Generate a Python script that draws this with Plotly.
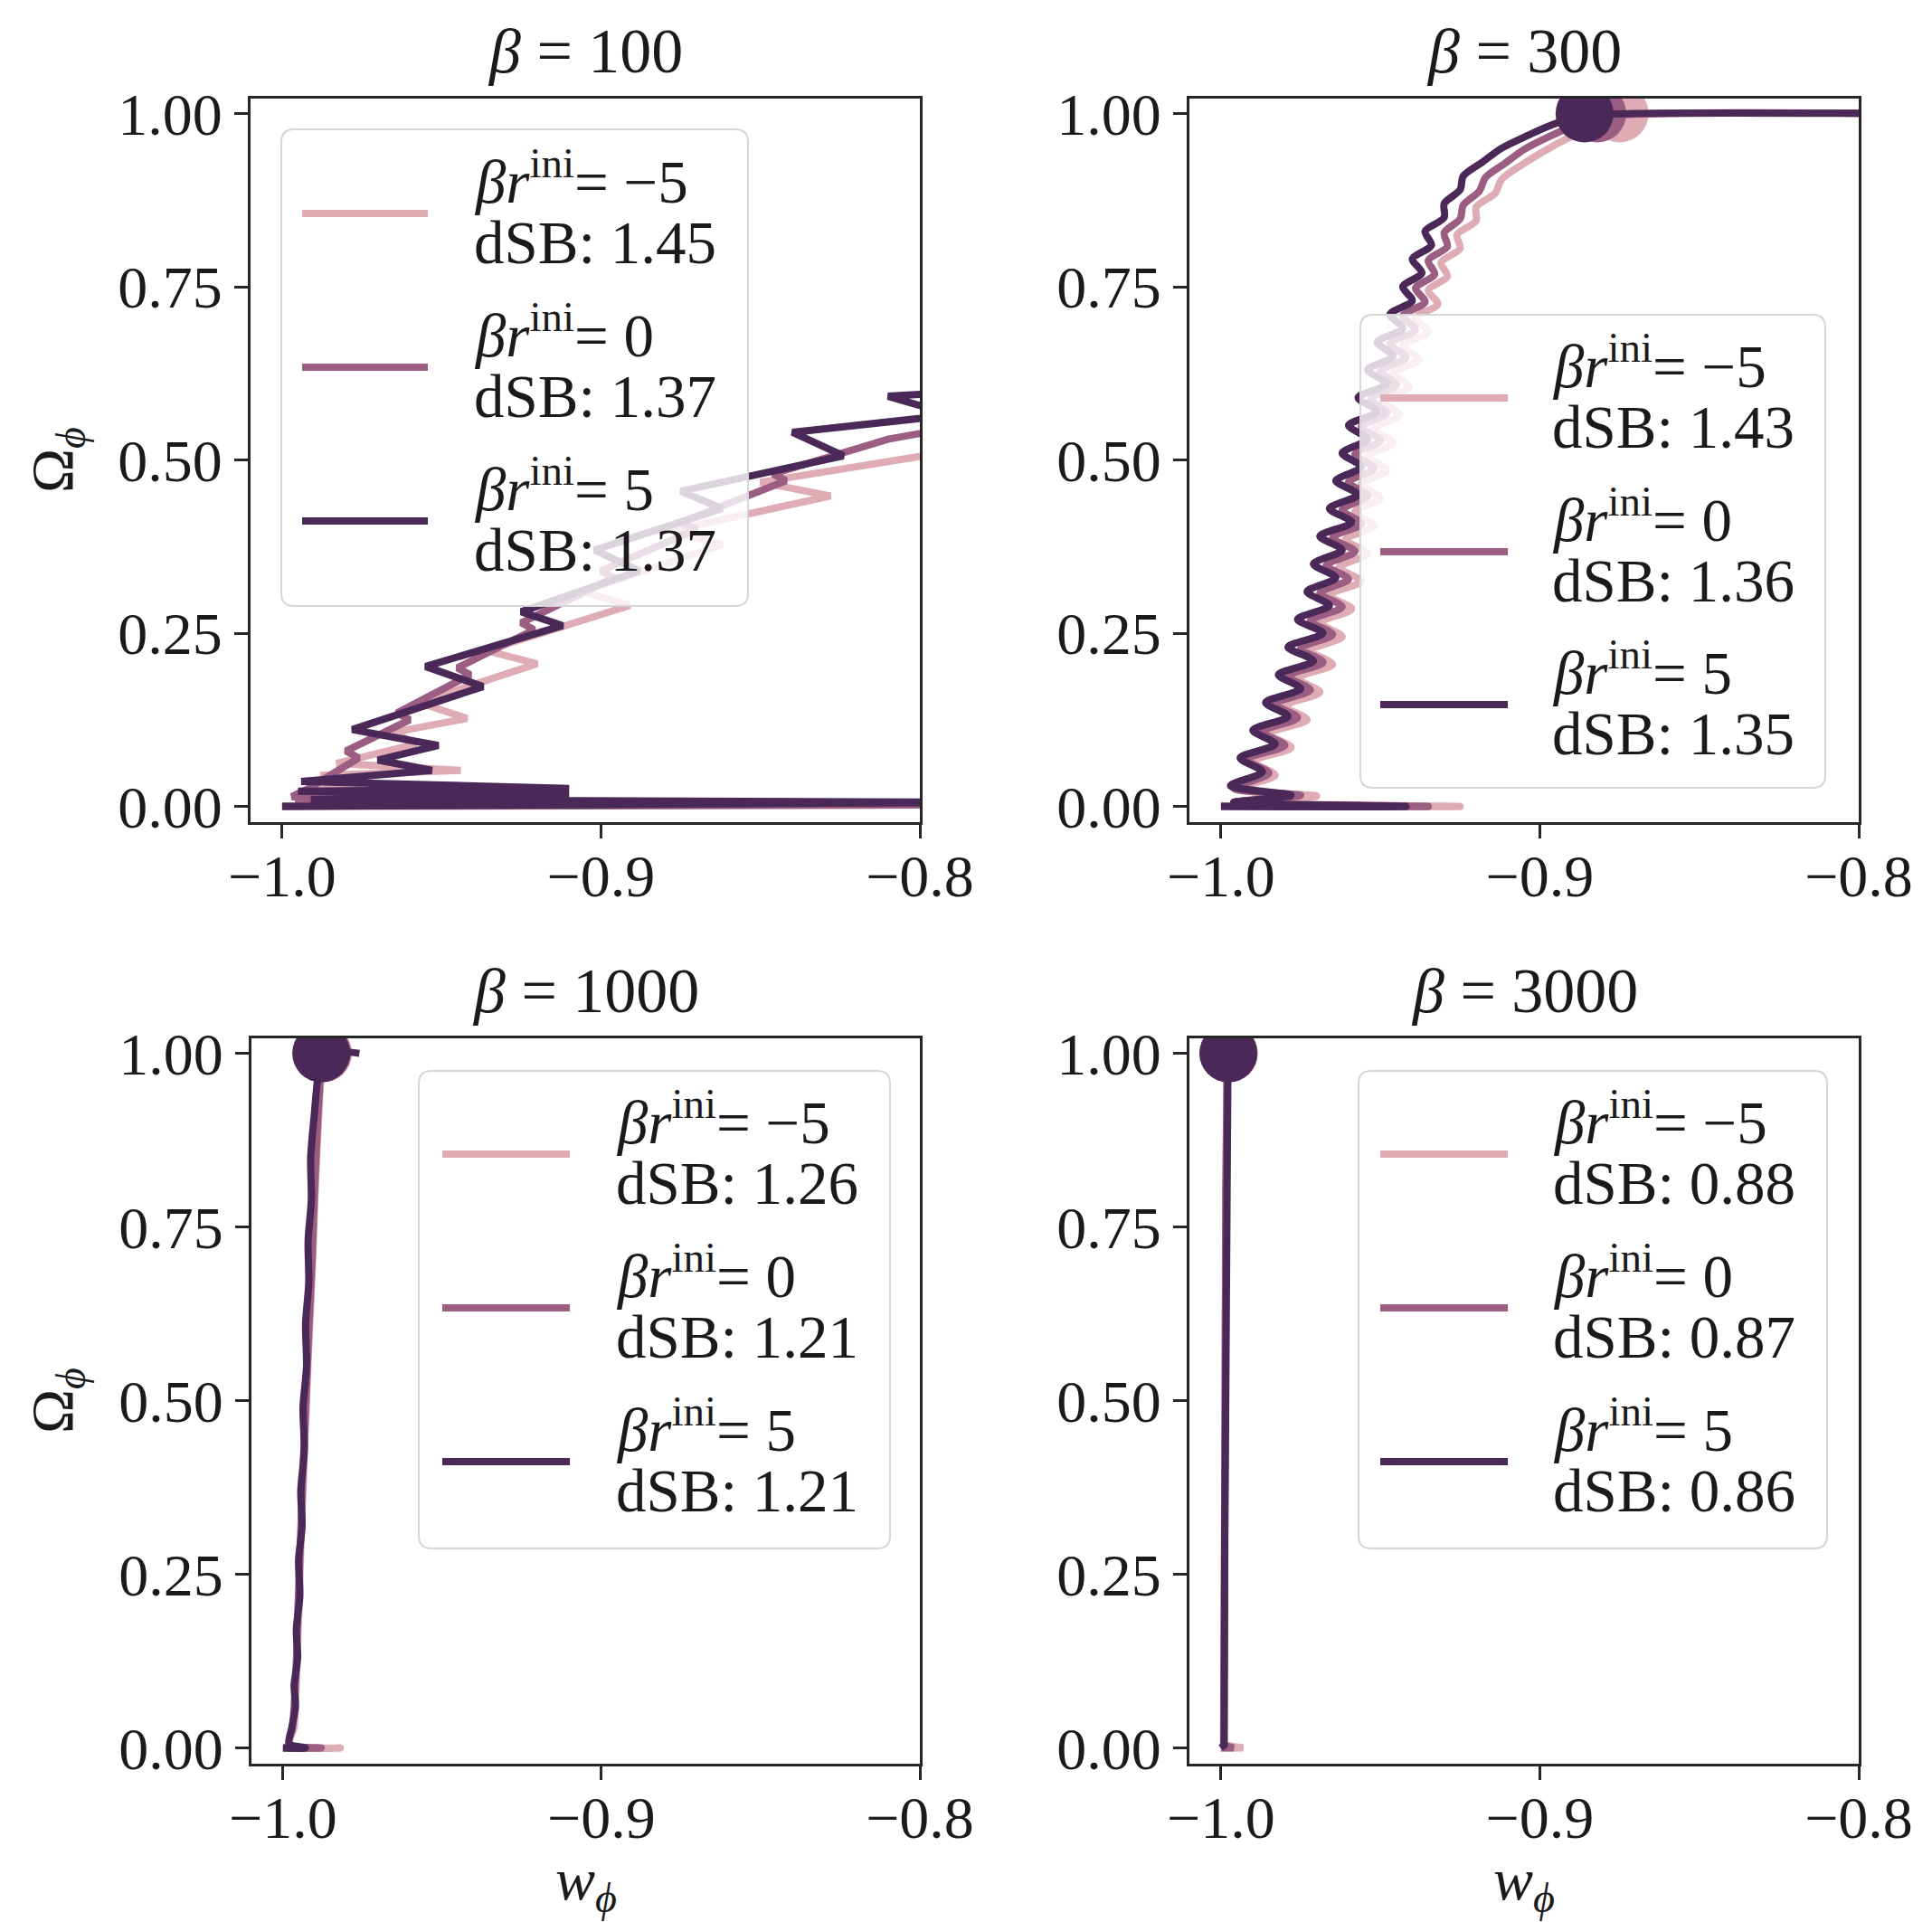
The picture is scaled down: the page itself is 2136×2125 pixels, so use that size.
import plotly.graph_objects as go

W, H = 2136, 2125
FONT = "Liberation Serif"
TXT = "#1a1a1a"
AX = "#262626"

series_colors = ["#dfabb4", "#9b5d81", "#4a2857"]
r_ini_text = ["−5", "0", "5"]
beta_values = [100, 300, 1000, 3000]
dsb_beta100 = [1.45, 1.37, 1.37]
dsb_beta300 = [1.43, 1.36, 1.35]
dsb_beta1000 = [1.26, 1.21, 1.21]
dsb_beta3000 = [0.88, 0.87, 0.86]
x_ticks = [-1.0, -0.9, -0.8]
x_tick_text = ["−1.0", "−0.9", "−0.8"]
y_ticks = [0.0, 0.25, 0.5, 0.75, 1.0]
y_tick_text = ["0.00", "0.25", "0.50", "0.75", "1.00"]

# ---------------- beta = 100 ----------------
w_b100_m5 = [-1.000, -0.905, -0.996, -0.960, -0.993, -0.975, -0.988, -0.944, -0.983, -0.958,
             -0.965, -0.942, -0.957, -0.920, -0.936, -0.891, -0.906, -0.862, -0.878, -0.828,
             -0.850, -0.800, -0.780]
om_b100_m5 = [0.000, 0.003, 0.008, 0.012, 0.020, 0.034, 0.045, 0.052, 0.062, 0.090,
              0.107, 0.127, 0.150, 0.206, 0.225, 0.290, 0.310, 0.378, 0.398, 0.448,
              0.468, 0.506, 0.520]
w_b100_0 = [-1.000, -0.800, -0.996, -0.930, -0.997, -0.992, -0.976, -0.980, -0.960, -0.964,
            -0.941, -0.945, -0.921, -0.925, -0.896, -0.900, -0.870, -0.875, -0.842, -0.846,
            -0.810, -0.780]
om_b100_0 = [0.000, 0.002, 0.006, 0.010, 0.014, 0.025, 0.070, 0.080, 0.125, 0.135,
             0.190, 0.200, 0.255, 0.265, 0.330, 0.340, 0.400, 0.410, 0.470, 0.480,
             0.530, 0.555]
w_b100_p5 = [-1.000, -0.780, -0.991, -0.910, -0.995, -0.910, -0.994, -0.953, -0.970, -0.951,
             -0.978, -0.937, -0.955, -0.912, -0.925, -0.888, -0.902, -0.862, -0.875, -0.853,
             -0.824, -0.840, -0.790, -0.810, -0.780]
om_b100_p5 = [0.000, 0.006, 0.010, 0.016, 0.022, 0.026, 0.036, 0.052, 0.067, 0.088,
              0.111, 0.173, 0.202, 0.261, 0.281, 0.340, 0.370, 0.430, 0.455, 0.477,
              0.506, 0.540, 0.565, 0.592, 0.600]

# ---------------- beta = 300 ----------------
w_b300_m5 = [-1.000, -0.925, -0.996, -0.970, -0.995, -0.983, -0.990, -0.978, -0.985, -0.973,
             -0.980, -0.969, -0.976, -0.965, -0.972, -0.962, -0.969, -0.959, -0.966, -0.956,
             -0.963, -0.954, -0.961, -0.952, -0.958, -0.950, -0.956, -0.948, -0.954, -0.946,
             -0.952, -0.944, -0.949, -0.941, -0.946, -0.938, -0.943, -0.935, -0.939, -0.932,
             -0.935, -0.929, -0.931, -0.925, -0.926, -0.920, -0.920, -0.914, -0.912, -0.906,
             -0.899, -0.891, -0.883, -0.876, -0.860, -0.780]
om_b300_m5 = [0.000, 0.000, 0.006, 0.015, 0.025, 0.045, 0.065, 0.085, 0.105, 0.125,
              0.145, 0.165, 0.185, 0.205, 0.225, 0.245, 0.265, 0.285, 0.305, 0.325,
              0.345, 0.365, 0.385, 0.405, 0.425, 0.445, 0.465, 0.485, 0.505, 0.525,
              0.545, 0.565, 0.585, 0.605, 0.625, 0.645, 0.665, 0.685, 0.705, 0.725,
              0.745, 0.765, 0.785, 0.805, 0.825, 0.845, 0.865, 0.885, 0.905, 0.925,
              0.945, 0.965, 0.982, 0.995, 1.000, 1.000]
w_b300_0 = [-1.000, -0.935, -0.996, -0.975, -0.996, -0.985, -0.992, -0.980, -0.987, -0.976,
            -0.983, -0.972, -0.979, -0.968, -0.975, -0.965, -0.972, -0.962, -0.969, -0.960,
            -0.967, -0.958, -0.965, -0.956, -0.962, -0.954, -0.960, -0.952, -0.958, -0.950,
            -0.956, -0.948, -0.953, -0.945, -0.950, -0.942, -0.947, -0.939, -0.943, -0.936,
            -0.939, -0.933, -0.935, -0.929, -0.930, -0.925, -0.924, -0.919, -0.917, -0.911,
            -0.905, -0.897, -0.889, -0.882, -0.865, -0.780]
om_b300_0 = [0.000, 0.000, 0.006, 0.016, 0.026, 0.048, 0.068, 0.088, 0.108, 0.128,
             0.148, 0.168, 0.188, 0.208, 0.228, 0.248, 0.268, 0.288, 0.308, 0.328,
             0.348, 0.368, 0.388, 0.408, 0.428, 0.448, 0.468, 0.488, 0.508, 0.528,
             0.548, 0.568, 0.588, 0.608, 0.628, 0.648, 0.668, 0.688, 0.708, 0.728,
             0.748, 0.768, 0.788, 0.808, 0.828, 0.848, 0.868, 0.888, 0.908, 0.928,
             0.948, 0.967, 0.983, 0.995, 1.000, 1.000]
w_b300_p5 = [-1.000, -0.942, -0.996, -0.978, -0.997, -0.987, -0.994, -0.983, -0.990, -0.979,
             -0.986, -0.975, -0.982, -0.971, -0.979, -0.968, -0.976, -0.966, -0.973, -0.964,
             -0.971, -0.962, -0.969, -0.959, -0.966, -0.957, -0.964, -0.956, -0.962, -0.954,
             -0.960, -0.951, -0.957, -0.948, -0.954, -0.946, -0.951, -0.943, -0.947, -0.940,
             -0.943, -0.937, -0.940, -0.934, -0.936, -0.930, -0.930, -0.925, -0.924, -0.918,
             -0.912, -0.904, -0.896, -0.888, -0.870, -0.780]
om_b300_p5 = [0.000, 0.000, 0.006, 0.016, 0.030, 0.050, 0.070, 0.090, 0.110, 0.130,
              0.150, 0.170, 0.190, 0.210, 0.230, 0.250, 0.270, 0.290, 0.310, 0.330,
              0.350, 0.370, 0.390, 0.410, 0.430, 0.450, 0.470, 0.490, 0.510, 0.530,
              0.550, 0.570, 0.590, 0.610, 0.630, 0.650, 0.670, 0.690, 0.710, 0.730,
              0.750, 0.770, 0.790, 0.810, 0.830, 0.850, 0.870, 0.890, 0.910, 0.930,
              0.950, 0.968, 0.984, 0.996, 1.000, 1.000]

# ---------------- beta = 1000 ----------------
w_b1000_m5 = [-1.000, -0.982, -0.998, -0.9965, -0.9958, -0.9950, -0.9943, -0.9935, -0.9926,
              -0.9917, -0.9907, -0.9899, -0.9889, -0.9880, -0.9871]
om_b1000_m5 = [0.000, 0.000, 0.004, 0.030, 0.100, 0.200, 0.300, 0.400, 0.500,
               0.600, 0.700, 0.800, 0.900, 0.970, 1.000]
w_b1000_0 = [-1.000, -0.988, -0.998, -0.9970, -0.9960, -0.9953, -0.9945, -0.9937, -0.9928,
             -0.9919, -0.9909, -0.9901, -0.9891, -0.9882, -0.9874]
om_b1000_0 = [0.000, 0.000, 0.005, 0.030, 0.100, 0.200, 0.300, 0.400, 0.500,
              0.600, 0.700, 0.800, 0.900, 0.970, 1.000]
w_b1000_p5 = [-1.000, -0.993, -0.998, -0.9972, -0.9961, -0.9965, -0.9954, -0.9958, -0.9947,
              -0.9951, -0.9940, -0.9944, -0.9933, -0.9937, -0.9926, -0.9929, -0.9919, -0.9921,
              -0.9911, -0.9913, -0.9902, -0.9892, -0.9880, -0.9760]
om_b1000_p5 = [0.000, 0.000, 0.006, 0.030, 0.060, 0.090, 0.130, 0.170, 0.220,
               0.270, 0.320, 0.370, 0.430, 0.490, 0.550, 0.610, 0.670, 0.730,
               0.790, 0.850, 0.910, 0.960, 1.000, 1.000]

# ---------------- beta = 3000 ----------------
w_b3000_m5 = [-1.000, -0.993, -0.9992, -0.9990, -0.9986, -0.9982]
om_b3000_m5 = [0.000, 0.000, 0.004, 0.300, 0.700, 1.000]
w_b3000_0 = [-1.000, -0.996, -0.9991, -0.9989, -0.9985, -0.9980]
om_b3000_0 = [0.000, 0.000, 0.004, 0.400, 0.800, 1.000]
w_b3000_p5 = [-1.000, -0.9990, -0.9988, -0.9984, -0.9978]
om_b3000_p5 = [0.000, 0.004, 0.300, 0.700, 1.000]

# end-point markers (w, Omega) per series; beta=100 end points lie outside the window
mark_w_b300 = [-0.875, -0.882, -0.886]
mark_om_b300 = [1.0, 1.0, 1.0]
mark_w_b1000 = [-0.9874, -0.9877, -0.9880]
mark_om_b1000 = [1.0, 1.0, 1.0]
mark_w_b3000 = [-0.9975, -0.9976, -0.9977]
mark_om_b3000 = [1.0, 1.0, 1.0]

panels = [
    dict(beta=100, dsb=dsb_beta100, shape="linear",
         w=[w_b100_m5, w_b100_0, w_b100_p5], om=[om_b100_m5, om_b100_0, om_b100_p5],
         mw=None, mo=None),
    dict(beta=300, dsb=dsb_beta300, shape="spline",
         w=[w_b300_m5, w_b300_0, w_b300_p5], om=[om_b300_m5, om_b300_0, om_b300_p5],
         mw=mark_w_b300, mo=mark_om_b300),
    dict(beta=1000, dsb=dsb_beta1000, shape="spline",
         w=[w_b1000_m5, w_b1000_0, w_b1000_p5], om=[om_b1000_m5, om_b1000_0, om_b1000_p5],
         mw=mark_w_b1000, mo=mark_om_b1000),
    dict(beta=3000, dsb=dsb_beta3000, shape="linear",
         w=[w_b3000_m5, w_b3000_0, w_b3000_p5], om=[om_b3000_m5, om_b3000_0, om_b3000_p5],
         mw=mark_w_b3000, mo=mark_om_b3000),
]

# ---------------- layout geometry (pixels) ----------------
axes_px = [(277, 1017, 109, 909), (1315, 2055, 109, 909),
           (278, 1017, 1148, 1950), (1315, 2055, 1148, 1950)]
legend_px = [
    dict(box=(311, 143, 827, 670), lx=(334, 473), ly=[236, 406, 576], tx=523),
    dict(box=(1504, 348, 2018, 871), lx=(1526, 1667), ly=[440, 610, 779], tx=1715),
    dict(box=(463, 1184, 984, 1712), lx=(489, 630), ly=[1276, 1446, 1616], tx=680),
    dict(box=(1502, 1184, 2020, 1712), lx=(1526, 1667), ly=[1276, 1446, 1616], tx=1716),
]
FS = 64
FS_TICK = 66
FS_LEG = 67
FS_TITLE = 70


def px(X):
    return X / W


def py(Y):
    return 1 - Y / H


def rrect(X0, Y0, X1, Y1, r):
    pts = lambda X, Y: f"{px(X):.5f},{py(Y):.5f}"
    return (f"M{pts(X0 + r, Y0)} L{pts(X1 - r, Y0)} Q{pts(X1, Y0)} {pts(X1, Y0 + r)} "
            f"L{pts(X1, Y1 - r)} Q{pts(X1, Y1)} {pts(X1 - r, Y1)} "
            f"L{pts(X0 + r, Y1)} Q{pts(X0, Y1)} {pts(X0, Y1 - r)} "
            f"L{pts(X0, Y0 + r)} Q{pts(X0, Y0)} {pts(X0 + r, Y0)} Z")


fig = go.Figure()
layout = dict(width=W, height=H,
              margin=dict(l=0, r=0, t=0, b=0, pad=0, autoexpand=False),
              paper_bgcolor="white", plot_bgcolor="white", showlegend=False,
              font=dict(family=FONT, size=FS, color=TXT))
shapes, annotations = [], []

for i, (pan, (X0, X1, Y0, Y1), leg) in enumerate(zip(panels, axes_px, legend_px), start=1):
    xa, ya = f"x{i}", f"y{i}"
    for j in range(3):
        line = dict(color=series_colors[j], width=8, shape=pan["shape"])
        if pan["shape"] == "spline":
            line["smoothing"] = 0.8
        fig.add_trace(go.Scatter(x=pan["w"][j], y=pan["om"][j], mode="lines", line=line,
                                 xaxis=xa, yaxis=ya, hoverinfo="skip"))
        if pan["mw"] is not None:
            fig.add_trace(go.Scatter(x=[pan["mw"][j]], y=[pan["mo"][j]], mode="markers",
                                     marker=dict(color=series_colors[j], size=64,
                                                 line=dict(width=0)),
                                     xaxis=xa, yaxis=ya, hoverinfo="skip"))
    key = "" if i == 1 else str(i)
    layout["xaxis" + key] = dict(
        domain=[px(X0), px(X1)], range=[-1.0099, -0.8], anchor=ya, automargin=False,
        showline=True, mirror=True, linecolor=AX, linewidth=3,
        ticks="outside", ticklen=15, tickwidth=3, tickcolor=AX,
        tickvals=x_ticks, ticktext=x_tick_text, tickfont=dict(size=FS_TICK, color=TXT),
        showgrid=False, zeroline=False)
    layout["yaxis" + key] = dict(
        domain=[py(Y1), py(Y0)], range=[-0.0227, 1.0216], anchor=xa, automargin=False,
        showline=True, mirror=True, linecolor=AX, linewidth=3,
        ticks="outside", ticklen=15, tickwidth=3, tickcolor=AX,
        tickvals=y_ticks, ticktext=y_tick_text, tickfont=dict(size=FS_TICK, color=TXT),
        showgrid=False, zeroline=False)

    # panel title
    title_bottom = 97 if i <= 2 else 1136
    annotations.append(dict(text=f"<i>β</i> = {pan['beta']}", x=px((X0 + X1) / 2),
                            y=py(title_bottom), xref="paper", yref="paper",
                            xanchor="center", yanchor="bottom",
                            showarrow=False, font=dict(size=FS_TITLE, color=TXT)))

    # legend frame
    bx0, by0, bx1, by1 = leg["box"]
    shapes.append(dict(type="path", path=rrect(bx0, by0, bx1, by1, 14), xref="paper", yref="paper",
                       fillcolor="rgba(255,255,255,0.8)", line=dict(color="#d6d6d6", width=2),
                       layer="above"))
    for j in range(3):
        ly = leg["ly"][j]
        shapes.append(dict(type="line", xref="paper", yref="paper",
                           x0=px(leg["lx"][0]), x1=px(leg["lx"][1]), y0=py(ly), y1=py(ly),
                           line=dict(color=series_colors[j], width=8), layer="above"))
        annotations.append(dict(text=f"<i>βr</i><sup>ini</sup>= {r_ini_text[j]}",
                                x=px(leg["tx"]), y=py(ly - 12 + 15), xref="paper", yref="paper",
                                xanchor="left", yanchor="bottom", showarrow=False,
                                borderpad=0, font=dict(size=FS_LEG, color=TXT)))
        annotations.append(dict(text=f"dSB: {pan['dsb'][j]:.2f}",
                                x=px(leg["tx"]), y=py(ly + 55 + 15), xref="paper", yref="paper",
                                xanchor="left", yanchor="bottom", showarrow=False,
                                borderpad=0, font=dict(size=FS_LEG, color=TXT)))

# axis titles
for yc in [(109 + 909) / 2, (1148 + 1950) / 2]:
    annotations.append(dict(text="Ω<sub><i>ϕ</i></sub>", x=px(62), y=py(yc), xref="paper",
                            yref="paper", xanchor="center", yanchor="middle", textangle=-90,
                            showarrow=False, font=dict(size=FS_TICK, color=TXT)))
for xc in [(278 + 1017) / 2, (1315 + 2055) / 2]:
    annotations.append(dict(text="<i>w</i><sub><i>ϕ</i></sub>", x=px(xc), y=py(2082), xref="paper",
                            yref="paper", xanchor="center", yanchor="middle",
                            showarrow=False, font=dict(size=FS_TICK, color=TXT)))

layout["shapes"] = shapes
layout["annotations"] = annotations
fig.update_layout(**layout)

# pull x tick labels a little closer to the axis, as in the reference
try:
    fig.update_xaxes(ticklabelstandoff=-15)
except Exception:
    pass

fig.write_html("out.html")
